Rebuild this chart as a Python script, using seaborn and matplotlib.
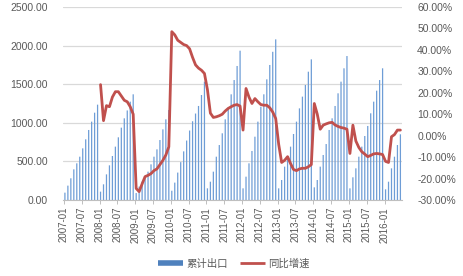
import numpy as np
import pandas as pd
import matplotlib
matplotlib.use("Agg")
import matplotlib.pyplot as plt
from matplotlib.lines import Line2D
from matplotlib.ticker import FuncFormatter, FixedLocator
import seaborn as sns

# ---- data ----
months = pd.date_range("2007-01", "2016-06", freq="MS").strftime("%Y-%m").tolist()

export_2007 = [95, 186, 281, 397, 475, 561, 669, 786, 907, 1015, 1131, 1235]
export_2008 = [108, 203, 332, 449, 570, 691, 812, 937, 1058, 1160, 1274, 1369]
export_2009 = [90, 173, 237, 302, 367, 462, 561, 656, 777, 915, 1045, 1166]
export_2010 = [120, 225, 355, 490, 630, 770, 900, 1020, 1120, 1218, 1360, 1533]
export_2011 = [151, 237, 367, 561, 712, 864, 1045, 1196, 1369, 1554, 1736, 1934]
export_2012 = [151, 302, 475, 635, 820, 1015, 1209, 1369, 1563, 1749, 1920, 2081]
export_2013 = [151, 259, 432, 561, 691, 855, 1015, 1187, 1339, 1490, 1662, 1822]
export_2014 = [164, 259, 432, 583, 725, 907, 1058, 1218, 1382, 1533, 1706, 1865]
export_2015 = [151, 294, 410, 561, 691, 829, 959, 1123, 1274, 1416, 1554, 1706]
export_2016 = [138, 237, 410, 561, 712, 851]

yoy_2007 = [np.nan] * 12
yoy_2008 = [23.8, 7.0, 14.0, 13.5, 18.0, 20.5, 20.5, 18.5, 16.5, 15.8, 13.5, 10.0]
yoy_2009 = [-24.6, -26.1, -22.5, -19.1, -18.5, -17.7, -16.3, -15.5, -13.5, -11.5, -9.0, -5.2]
yoy_2010 = [48.5, 47.0, 44.5, 43.5, 42.5, 42.0, 40.5, 36.5, 33.0, 31.5, 30.5, 29.0]
yoy_2011 = [21.5, 10.5, 8.5, 8.8, 9.3, 10.0, 11.5, 12.7, 13.5, 14.2, 14.5, 13.8]
yoy_2012 = [2.6, 22.0, 18.0, 15.0, 17.3, 15.8, 14.5, 14.2, 14.2, 13.0, 11.0, 8.0]
yoy_2013 = [-4.0, -12.5, -11.5, -9.8, -13.0, -15.8, -16.3, -15.5, -15.2, -15.2, -14.5, -13.5]
yoy_2014 = [15.0, 10.0, 3.0, 4.9, 5.5, 6.0, 6.2, 5.0, 4.3, 3.8, 3.5, 3.0]
yoy_2015 = [-8.3, 4.9, -2.5, -5.5, -7.5, -8.6, -9.8, -9.2, -8.5, -8.3, -8.5, -8.8]
yoy_2016 = [-12.0, -12.5, -0.5, 0.5, 2.6, 2.6]

bar_label = "累计出口"
line_label = "同比增速"

exports = (export_2007 + export_2008 + export_2009 + export_2010 + export_2011 +
           export_2012 + export_2013 + export_2014 + export_2015 + export_2016)
yoy = (yoy_2007 + yoy_2008 + yoy_2009 + yoy_2010 + yoy_2011 +
       yoy_2012 + yoy_2013 + yoy_2014 + yoy_2015 + yoy_2016)

df = pd.DataFrame({"month": months, "pos": np.arange(len(months)),
                   "export": exports, "yoy": yoy})

# ---- style ----
sns.set_theme(style="white")
plt.rcParams["font.family"] = ["Liberation Sans", "Noto Sans CJK SC", "DejaVu Sans"]

BLUE = "#4F81BD"
BAR_BLUE = "#6E9DD6"
RED = "#C0504D"
GRAY_TXT = "#595959"
GRID = "#D9D9D9"

fig = plt.figure(figsize=(4.63, 2.76), dpi=100)
ax = fig.add_axes([0.137, 0.2754, 0.731, 0.6992])

sns.barplot(data=df, x="pos", y="export", native_scale=True, width=0.42,
            color=BAR_BLUE, saturation=1, linewidth=0, edgecolor="none",
            ax=ax, zorder=2)
for p in ax.patches:
    p.set_snap(False)
ax.set_xlim(-0.5, len(months) - 0.5)
ax.set_ylim(0, 2500)
ax.set_yticks(np.arange(0, 2501, 500))
ax.yaxis.set_major_formatter(FuncFormatter(lambda v, p: f"{v:.2f}"))
ax.grid(axis="y", color=GRID, linewidth=0.9, zorder=0)
ax.set_axisbelow(True)

tick_pos = [i for i, m in enumerate(months) if m.endswith("-01") or m.endswith("-07")]
ax.xaxis.set_major_locator(FixedLocator([p - 0.35 for p in tick_pos]))
ax.set_xticklabels([months[i] for i in tick_pos], rotation=90, fontsize=7, color=GRAY_TXT)
ax.tick_params(axis="x", length=3, width=0.7, color="#BFBFBF", pad=2, bottom=True)
ax.tick_params(axis="y", length=0, labelsize=7.5, labelcolor=GRAY_TXT, pad=11)
ax.set_xlabel("")
ax.set_ylabel("")
for s in ["top", "left", "right"]:
    ax.spines[s].set_visible(False)
ax.spines["bottom"].set_color("#BFBFBF")
ax.spines["bottom"].set_linewidth(0.8)

ax2 = ax.twinx()
sns.lineplot(data=df.dropna(subset=["yoy"]), x="pos", y="yoy", color=RED,
             linewidth=2.0, ax=ax2, zorder=3)
ax2.set_ylim(-30, 60)
ax2.set_yticks(np.arange(-30, 61, 10))
ax2.yaxis.set_major_formatter(FuncFormatter(lambda v, p: f"{v:.2f}%"))
ax2.tick_params(axis="y", length=0, labelsize=7.5, labelcolor=GRAY_TXT, pad=11)
ax2.set_ylabel("")
ax2.set_xlim(-0.5, len(months) - 0.5)
for s in ["top", "left", "right", "bottom"]:
    ax2.spines[s].set_visible(False)

handles = [Line2D([0], [0], color=BLUE, linewidth=4, solid_capstyle="butt"),
           Line2D([0], [0], color=RED, linewidth=2, solid_capstyle="butt")]
leg = fig.legend(handles, [bar_label, line_label], loc="center",
                 bbox_to_anchor=(0.505, 0.045), ncol=2, frameon=False,
                 handlelength=2.4, handletextpad=0.3, columnspacing=1.2,
                 prop={"family": ["Noto Sans CJK SC"], "size": 7.5})
for t in leg.get_texts():
    t.set_color(GRAY_TXT)

fig.savefig("out.png", dpi=100)
